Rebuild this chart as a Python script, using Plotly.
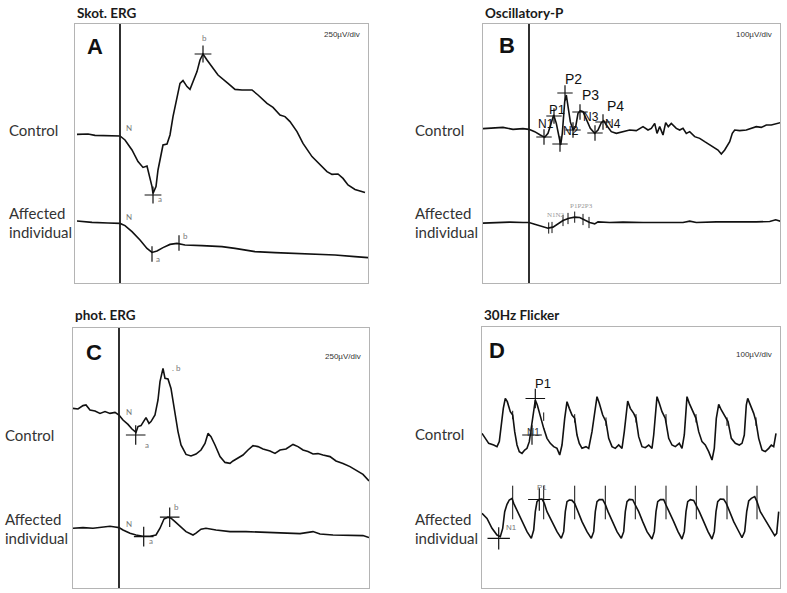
import plotly.graph_objects as go

W, H = 787, 593

# ---------------- DATA (time in ms from stimulus, amplitude in µV from each trace's baseline) -------------
# Panel A: scotopic ERG (250 µV/div)
a_ctrl_t = [-43, -32, -25, -12, 0, 5, 12, 18, 23, 27, 29, 32, 33, 36, 38, 41, 43, 47, 50, 53, 57, 60, 63, 67, 70, 73, 77, 80, 83, 87, 92, 98, 108, 115, 122, 132, 138, 147, 153, 160, 165, 170, 177, 183, 192, 200, 207, 212, 218, 223, 228, 235, 245]
a_ctrl_v = [8, 10, 3, 2, 0, -20, -70, -128, -157, -150, -187, -253, -287, -253, -170, -87, -45, -40, 5, 97, 197, 263, 277, 247, 233, 272, 322, 380, 410, 380, 347, 305, 263, 233, 230, 230, 205, 163, 143, 105, 97, 72, 22, -37, -103, -145, -178, -192, -190, -212, -245, -267, -283]
a_aff_t = [-43, -28, -12, 0, 5, 12, 20, 27, 32, 37, 43, 50, 57, 65, 82, 102, 115, 135, 155, 175, 195, 215, 235, 248]
a_aff_v = [10, 3, 0, -2, -13, -43, -85, -127, -147, -140, -123, -107, -102, -110, -113, -118, -127, -143, -148, -152, -157, -160, -168, -173]
a_ctrl_mark_t = [33, 83]
a_ctrl_mark_v = [-295, 410]
a_aff_mark_t = [32, 59]
a_aff_mark_v = [-155, -100]

# Panel B: oscillatory potentials (100 µV/div)
b_ctrl_t = [-46, -36, -26, -16, -6, 0, 5.7, 11.3, 15.7, 19, 22.3, 24.7, 27.3, 30, 31.7, 33.3, 35.7, 37.3, 39.3, 41.3, 44, 46.7, 49, 51.3, 54, 57.3, 61.3, 65.7, 69, 72.3, 74.7, 77.3, 82.3, 87.3, 94, 100.7, 107.3, 114, 119, 122.3, 125.7, 128, 130.7, 134, 136.7, 139.3, 142.3, 147.3, 150.7, 154, 157.3, 160.7, 165.7, 170.7, 175.7, 180.7, 184, 189, 192.3, 195.7, 200.7, 203.3, 205.7, 210.7, 217.3, 222.3, 227.3, 232.3, 237.3, 242.3, 247.3, 251.3]
b_ctrl_v = [-1.3, -0.7, 1.3, -2.7, -1.3, -2.7, -7.3, -14, -18.7, -10.7, 12.7, 26, 9.3, -20.7, -34, -10.7, 52.7, 66, 36, 12.7, -4, 2.7, 29.3, 34.7, 32.7, 16, -0.7, -10.7, -4, 10.7, 14.7, 6, -7.3, -10.7, -7.3, -4, -5.3, 2.7, -4, -0.7, 9.3, -10.7, 2.7, -14, 10.7, 2.7, 9.3, -0.7, -4, -0.7, -10.7, -7.3, -17.3, -20.7, -27.3, -34, -37.3, -44, -52, -44, -27.3, -10.7, -4, -5.3, -4, -0.7, 2.7, 1.3, 6, 6, 8, 10.7]
b_aff_t = [-46, -32.7, -19.3, -6, 0, 5.7, 12.3, 19, 24, 29, 34, 40, 45.7, 50.7, 55.7, 60.7, 65.7, 69, 80.7, 94, 114, 134, 154, 160.7, 167.3, 187.3, 207.3, 227.3, 240.7, 246.7, 251.3]
b_aff_v = [-1.3, 0, 0.7, 0, 0, -3.3, -8, -11.3, -9.3, -2.7, 4, 8.7, 10.7, 10, 5.3, 0, -2.7, 1.3, 0, 0.7, 0, 0.7, 0, 2.7, 0, 1.3, 0.7, 1.3, 2, 5.3, 2.7]
b_ctrl_peaks = ["N1", "P1", "N2", "P2", "N3", "P3", "N4", "P4"]
b_ctrl_mark_t = [15, 25, 31, 36, 44, 51, 66, 74]
b_ctrl_mark_v = [-18, 24, -32, 70, -4, 32, -10, 12]
b_aff_mark_t = [19.7, 23, 34, 39, 45.7, 54, 60]
b_aff_mark_v = [-11, -10, 4, 8, 10.7, 6, 0]

# Panel C: photopic ERG (250 µV/div)
c_ctrl_t = [-46, -41, -36, -33, -29, -24, -19, -14, -9, -4, 0, 4, 9, 13, 17, 19, 22, 25, 27, 30, 32, 36, 39, 41, 43, 44, 46, 49, 52, 56, 59, 62, 67, 72, 77, 82, 86, 89, 92, 96, 101, 106, 111, 114, 119, 124, 129, 134, 139, 144, 151, 156, 161, 167, 174, 179, 184, 189, 194, 199, 204, 211, 217, 224, 231, 237, 244, 250]
c_ctrl_v = [33, 30, 47, 50, 25, 20, 8, 17, 8, 13, 0, -25, -47, -70, -87, -58, -53, -25, -13, -42, -33, 0, 75, 167, 225, 233, 183, 180, 133, 8, -83, -150, -197, -205, -195, -175, -142, -92, -108, -150, -208, -237, -242, -230, -217, -200, -175, -153, -158, -170, -180, -192, -175, -170, -147, -158, -175, -183, -195, -193, -200, -208, -230, -242, -258, -275, -297, -330]
c_aff_t = [-46, -36, -26, -16, -9, -4, 0, 4, 11, 17, 24, 31, 37, 41, 45, 49, 52, 56, 61, 67, 74, 77, 82, 87, 97, 111, 127, 144, 161, 181, 194, 201, 214, 231, 244, 250]
c_aff_v = [-3, 0, -3, 2, 7, 3, 0, -12, -28, -37, -43, -43, -37, -3, 43, 52, 47, 30, 5, -20, -37, -28, -8, -3, -12, -20, -20, -23, -23, -30, -20, -32, -37, -40, -40, -50]
c_ctrl_mark_t = [16.7]
c_ctrl_mark_v = [-100]
c_aff_mark_t = [24.7, 50.7]
c_aff_mark_v = [-45, 52]

# Panel D: 30 Hz flicker (100 µV/div), time from start of sweep
d_ctrl_t = [0, 3.3, 6.7, 11.7, 15, 17.3, 19.3, 21.3, 23.3, 25.3, 28.3, 30.7, 32.7, 35, 37.3, 40, 42.7, 45, 47.3, 50, 52, 53.3, 55.3, 58.3, 61.7, 65, 68.3, 71.7, 75, 77.7, 80, 82.7, 85, 87.3, 90, 92.7, 95, 97.3, 100, 104, 106.7, 110, 112.7, 115, 117.3, 120.7, 124, 126.7, 130, 133.3, 136.7, 140, 142.3, 144.3, 145.7, 148.3, 151.7, 154, 156.7, 160, 163.3, 166.7, 170, 171.7, 173.3, 175, 177.3, 180, 183.3, 186.7, 190, 193.3, 197.3, 200, 202.3, 204, 205, 207.3, 210.7, 214, 216.7, 220, 223.3, 226.7, 230, 232.3, 234.3, 236.7, 239.3, 243.3, 246, 249.3, 253.3, 257.3, 260, 262.3, 264.3, 265.7, 268.3, 271.7, 274, 276.7, 280, 283.3, 286.7, 289.3, 291.7, 294]
d_ctrl_v = [3.3, -6.7, -16.7, -20, -23.3, -13.3, 20, 53.3, 73.3, 66.7, 46.7, 40, 6.7, -20, -33.3, -36.7, -30, -26.7, -13.3, 20, 53.3, 70, 60, 36.7, 13.3, -6.7, -16.7, -23.3, -26.7, -40, -20, 33.3, 66.7, 53.3, 40, 33.3, 0, -16.7, -26.7, -23.3, -26.7, 6.7, 46.7, 76.7, 63.3, 40, 26.7, -6.7, -23.3, -26.7, -20, -26.7, 6.7, 50, 68, 53.3, 43.3, 33.3, -3.3, -23.3, -25.3, -20, -26.7, 0, 46.7, 76.7, 63.3, 46.7, 33.3, -6.7, -20, -23.3, -16.7, -26.7, 0, 46.7, 76.7, 63.3, 46.7, 33.3, 6.7, -13.3, -20, -33.3, -50, -26.7, 33.3, 61.3, 50, 36.7, 26.7, -6.7, -16.7, -20, -16.7, 0, 60, 73.3, 60, 43.3, 26.7, -6.7, -30, -33.3, -26.7, -20, -23.3, 3.3]
d_aff_t = [0, 5, 10, 15, 18.3, 20.7, 22.7, 25, 27.3, 30, 31.7, 35, 40, 45, 49.3, 51.7, 53.3, 55, 57.3, 60, 62.3, 65, 70, 75, 79.3, 81.7, 83.3, 85, 87.3, 90, 92.7, 95.7, 100, 105, 109.3, 111.7, 113.3, 115, 117.3, 120.7, 123.3, 126, 130.7, 135, 139.3, 141.7, 143.3, 145, 147.3, 150.7, 153.3, 156.7, 160.7, 165, 170, 172.3, 174, 175.7, 178.3, 181.7, 184, 187.3, 191.7, 196, 200, 202.3, 204, 205.7, 208.3, 211.7, 214.3, 217.3, 221.7, 226, 230, 232.3, 234, 235.7, 238.3, 241.7, 244.3, 247.3, 251.7, 256, 260, 262.7, 264.7, 266.7, 269.3, 272.7, 275, 278.3, 283.3, 288.3, 292.7, 294.7, 296.7]
d_aff_v = [13.3, 3.3, -16.7, -30, -33.3, -16.7, 16.7, 31.3, 40, 43.3, 33.3, 20, -3.3, -23.3, -36.7, -20, 16.7, 36.7, 41.3, 42, 33.3, 16.7, -3.3, -23.3, -36.7, -23.3, 16.7, 36.7, 40, 39.3, 33.3, 16.7, -3.3, -23.3, -36.7, -23.3, 16.7, 36.7, 40.7, 40.7, 31.3, 16.7, -3.3, -23.3, -36.7, -23.3, 16.7, 36.7, 41.3, 40.7, 30, 16.7, -3.3, -23.3, -38, -23.3, 16.7, 36.7, 40.7, 40.7, 30, 16.7, -3.3, -23.3, -38, -23.3, 16.7, 36.7, 40.7, 39.3, 30, 16.7, -3.3, -23.3, -38, -23.3, 16.7, 36.7, 42, 41.3, 33.3, 16.7, -3.3, -20, -35.3, -23.3, 16.7, 38, 43.3, 46.7, 36.7, 16.7, 0, -16.7, -31.3, -26.7, 16.7]
d_ctrl_mark_t = [50, 53.3]
d_ctrl_mark_v = [0, 73]
d_ctrl_tick_t = [30.7, 61.7, 92.7, 124, 154, 184, 214, 245, 274]
d_ctrl_tick_v = [40, 36.7, 33.3, 26.7, 33.3, 33.3, 33.3, 26.7, 26.7]
d_aff_mark_t = [16.7, 57.3]
d_aff_mark_v = [-36.7, 41]
d_aff_tick_t = [30.7, 61.7, 92.7, 123.3, 153.3, 184, 214.3, 245, 275]
d_aff_tick_v = [35, 35, 35, 35, 35, 35, 35, 35, 35]

titles = ["Skot. ERG", "Oscillatory-P", "phot. ERG", "30Hz Flicker"]
letters = ["A", "B", "C", "D"]
scales = ["250µV/div", "100µV/div", "250µV/div", "100µV/div"]

# ---------------- LAYOUT CONFIG (pixel frames) ----------------
panels = [
    dict(k="", px=(75, 368), py=(24, 283), xr=(-45, 248), yr=(-735, 560), off=-435, stim=True,
         title_y=13, letter_x=85, letter_y=47, scale_y=35, row_y=(130, 213, 232), lab_x=7),
    dict(k="2", px=(483, 780), py=(24, 283), xr=(-46, 251), yr=(-310, 208), off=-189, stim=True,
         title_y=13, letter_x=497, letter_y=46, scale_y=35, row_y=(130, 213, 232), lab_x=413),
    dict(k="3", px=(73, 369), py=(328, 588), xr=(-46, 250), yr=(-865, 435), off=-563, stim=True,
         title_y=315, letter_x=84, letter_y=352, scale_y=356, row_y=(435, 519, 538), lab_x=3),
    dict(k="4", px=(482, 780), py=(327, 588), xr=(0, 298), yr=(-306, 216), off=-170, stim=False,
         title_y=315, letter_x=487, letter_y=350, scale_y=354, row_y=(434, 519, 538), lab_x=413),
]

fig = go.Figure()
LINE = dict(color="#111111", width=1.6)


def axes(p):
    return "x" + p["k"], "y" + p["k"]


def add_trace(p, t, v, offset=0.0):
    xa, ya = axes(p)
    fig.add_trace(go.Scatter(x=t, y=[val + offset for val in v], mode="lines", line=LINE,
                             xaxis=xa, yaxis=ya, hoverinfo="skip", showlegend=False))


def add_marks(p, t, v, offset=0.0, size=12, symbol="cross-thin", color="#111111", width=1.2):
    xa, ya = axes(p)
    fig.add_trace(go.Scatter(x=t, y=[val + offset for val in v], mode="markers",
                             marker=dict(symbol=symbol, size=size, color=color,
                                         line=dict(color=color, width=width)),
                             xaxis=xa, yaxis=ya, hoverinfo="skip", showlegend=False))


pA, pB, pC, pD = panels
add_trace(pA, a_ctrl_t, a_ctrl_v)
add_trace(pA, a_aff_t, a_aff_v, pA["off"])
add_marks(pA, a_ctrl_mark_t, a_ctrl_mark_v, 0, 12)
add_marks(pA, a_aff_mark_t, a_aff_mark_v, pA["off"], 11, "line-ns")

add_trace(pB, b_ctrl_t, b_ctrl_v)
add_trace(pB, b_aff_t, b_aff_v, pB["off"])
add_marks(pB, b_ctrl_mark_t, b_ctrl_mark_v, 0, 11)
add_marks(pB, b_aff_mark_t, b_aff_mark_v, pB["off"], 8, "line-ns", width=1)

add_trace(pC, c_ctrl_t, c_ctrl_v)
add_trace(pC, c_aff_t, c_aff_v, pC["off"])
add_marks(pC, c_ctrl_mark_t, c_ctrl_mark_v, 0, 14)
add_marks(pC, c_aff_mark_t, c_aff_mark_v, pC["off"], 14)

add_trace(pD, d_ctrl_t, d_ctrl_v)
add_trace(pD, d_aff_t, d_aff_v, pD["off"])
add_marks(pD, d_ctrl_mark_t, d_ctrl_mark_v, 0, 14)
add_marks(pD, d_ctrl_tick_t, d_ctrl_tick_v, 0, 6, "line-ns", width=1)
add_marks(pD, d_aff_mark_t, d_aff_mark_v, pD["off"], 16)
add_marks(pD, d_aff_tick_t, d_aff_tick_v, pD["off"], 24, "line-ns", width=1)

layout = dict(width=W, height=H, margin=dict(l=0, r=0, t=0, b=0),
              paper_bgcolor="white", plot_bgcolor="white", showlegend=False)
AX = dict(showline=True, mirror=True, linecolor="#b4b4b4", linewidth=1, showgrid=False,
          zeroline=False, showticklabels=False, ticks="", fixedrange=True)
for p in panels:
    n = p["k"]
    layout["xaxis" + n] = dict(AX, domain=[p["px"][0] / W, p["px"][1] / W], range=list(p["xr"]),
                              anchor="y" + n)
    layout["yaxis" + n] = dict(AX, domain=[1 - p["py"][1] / H, 1 - p["py"][0] / H], range=list(p["yr"]),
                              anchor="x" + n)
fig.update_layout(**layout)

shapes = []
for p in panels:
    if p["stim"]:
        shapes.append(dict(type="line", xref="x" + p["k"], yref=("y" + p["k"]) + " domain",
                           x0=0, x1=0, y0=0, y1=1, line=dict(color="#1a1a1a", width=1.8)))
fig.update_layout(shapes=shapes)

ann = []


def A(text, x, y, size, color="#222222", family="Lato", xanchor="left", yanchor="middle", weight="normal"):
    ann.append(dict(text=text, x=x / W, y=1 - y / H, xref="paper", yref="paper", showarrow=False,
                    xanchor=xanchor, yanchor=yanchor,
                    font=dict(size=size, color=color, family=family, weight=weight)))


for i, p in enumerate(panels):
    A(titles[i], p["px"][0], p["title_y"], 13.5, "#1a1a1a", weight="bold")
    A(letters[i], p["letter_x"], p["letter_y"], 22, "#111111", "Liberation Sans", weight="bold")
    A(scales[i], p["px"][1] - 6, p["scale_y"], 8, "#333333", "Liberation Sans", xanchor="right")
    A("Control", p["lab_x"], p["row_y"][0], 15, "#333333")
    A("Affected", p["lab_x"], p["row_y"][1], 15, "#333333")
    A("individual", p["lab_x"], p["row_y"][2], 15, "#333333")

GR = "#777777"
# Panel A point labels
A("N", 124, 128, 8, GR); A("a", 156, 199, 8, GR); A("b", 204, 38, 8, GR, xanchor="center")
A("N", 124, 217, 8, GR); A("a", 154, 259, 8, GR); A("b", 181, 236, 8, GR)
# Panel B point labels
for name, (lx, ly, fs) in zip(b_ctrl_peaks, [(546, 124, 12), (557, 110, 13), (571, 131, 12), (573, 79, 14),
                                             (591, 117, 12), (590, 95, 14), (613, 124, 12), (615, 106, 14)]):
    A(name, lx, ly, fs, "#111111", "Liberation Sans", xanchor="center")
A("N1N2", 556, 215, 7, "#999999", "Liberation Serif", xanchor="center")
A("P1P2P3", 581, 206, 7, "#999999", "Liberation Serif", xanchor="center")
# Panel C point labels
A("N", 124, 412, 8, GR); A("a", 143, 445, 8, GR); A(". b", 170, 368, 8, GR)
A("N", 124, 524, 8, GR); A("a", 147, 541, 8, GR); A("b", 172, 507, 8, GR)
# Panel D point labels
A("P1", 543, 383, 13, "#111111", "Liberation Sans", xanchor="center")
A("N1", 525, 432, 10, "#333333", "Liberation Sans")
A("P1", 542, 487, 8, GR, "Liberation Sans", xanchor="center")
A("N1", 504, 527, 8, GR, "Liberation Sans")

fig.update_layout(annotations=ann)
fig.write_html("out.html", config={"displayModeBar": False},
               post_script="document.body.style.margin='0';document.body.style.padding='0';")
